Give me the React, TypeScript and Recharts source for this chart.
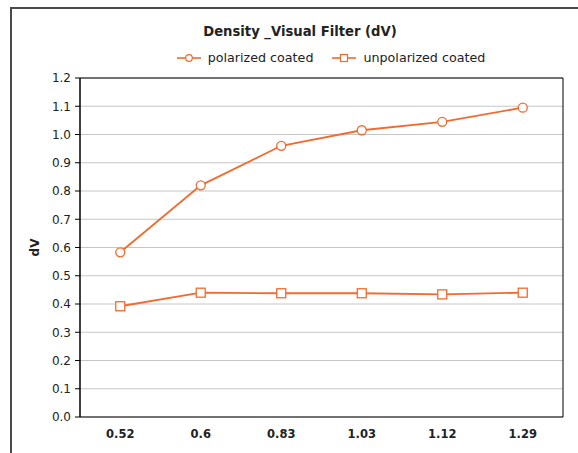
import React from 'react';
import {
  LineChart, Line, XAxis, YAxis, CartesianGrid, Legend, ReferenceArea,
} from 'recharts';

const categories = ['0.52', '0.6', '0.83', '1.03', '1.12', '1.29'];
const polarizedCoated = [0.583, 0.82, 0.96, 1.015, 1.045, 1.095];
const unpolarizedCoated = [0.392, 0.44, 0.438, 0.438, 0.434, 0.44];
const yTicks = [0, 0.1, 0.2, 0.3, 0.4, 0.5, 0.6, 0.7, 0.8, 0.9, 1.0, 1.1, 1.2];
const edgeTicks = [0, 1, 2, 3, 4, 5, 6];

const data = categories.map((c, i) => ({
  cat: c,
  idx: i + 0.5,
  polarized: polarizedCoated[i],
  unpolarized: unpolarizedCoated[i],
}));

const ORANGE = '#F26A2E';
const FONT = '"DejaVu Sans", Verdana, sans-serif';

const SquareDot = (props: any) => {
  const { cx, cy } = props;
  if (cx == null || cy == null) return null;
  return <rect x={cx - 4.5} y={cy - 4.5} width={9} height={9} fill="#fff" stroke={ORANGE} strokeWidth={1.3} />;
};

const CircleDot = (props: any) => {
  const { cx, cy } = props;
  if (cx == null || cy == null) return null;
  return <circle cx={cx} cy={cy} r={4.5} fill="#fff" stroke={ORANGE} strokeWidth={1.3} />;
};

const LegendContent = () => (
  <div style={{ fontFamily: FONT, color: '#222', position: 'relative', width: 578, height: 44 }}>
    <div style={{ fontWeight: 'bold', fontSize: 13.2, height: 22, lineHeight: '22px', textAlign: 'center', paddingLeft: 22, paddingRight: 0 }}>
      Density _Visual Filter (dV)
    </div>
    <div style={{ fontSize: 12.7, height: 20, lineHeight: '20px', marginTop: 5, display: 'flex', justifyContent: 'center', paddingLeft: 84 }}>
      <span style={{ display: 'inline-flex', alignItems: 'center', marginRight: 19 }}>
        <svg width={24} height={12} style={{ marginRight: 7 }}>
          <line x1={0} y1={6} x2={24} y2={6} stroke={ORANGE} strokeWidth={1.6} />
          <circle cx={12} cy={6} r={3.3} fill="#fff" stroke={ORANGE} strokeWidth={1.2} />
        </svg>
        polarized coated
      </span>
      <span style={{ display: 'inline-flex', alignItems: 'center' }}>
        <svg width={24} height={12} style={{ marginRight: 7 }}>
          <line x1={0} y1={6} x2={24} y2={6} stroke={ORANGE} strokeWidth={1.6} />
          <rect x={8.5} y={2.5} width={7} height={7} fill="#fff" stroke={ORANGE} strokeWidth={1.2} />
        </svg>
        unpolarized coated
      </span>
    </div>
  </div>
);

export default function App() {
  return (
    <div style={{ position: 'absolute', left: 0, top: 0, width: 578, height: 453, background: '#fff' }}>
      <div style={{ position: 'absolute', left: 10, top: 7, width: 568, height: 446, borderLeft: '2px solid #4a4a4a', borderTop: '2px solid #4a4a4a', boxSizing: 'border-box' }} />
      <div style={{ position: 'absolute', left: 0, top: 0 }}>
        <LineChart width={578} height={453} data={data} margin={{ top: 34, right: 15, bottom: 0, left: 0 }}>
          <Legend
            verticalAlign="top"
            align="left"
            content={<LegendContent />}
            wrapperStyle={{ top: 21, left: 0, height: 44, width: 578 }}
          />
          <CartesianGrid vertical={false} stroke="#c6c6c6" strokeWidth={1} />
          <XAxis
            xAxisId="edges"
            type="number"
            dataKey="idx"
            domain={[0, 6]}
            ticks={edgeTicks}
            tick={false}
            height={0}
            tickSize={5}
            stroke="#000"
            axisLine={{ stroke: '#000' }}
            tickLine={{ stroke: '#000' }}
          />
          <XAxis
            dataKey="cat"
            type="category"
            scale="band"
            tickLine={false}
            axisLine={false}
            height={36}
            tick={{ fontFamily: FONT, fontSize: 11.5, fontWeight: 'bold', fill: '#222' }}
            tickMargin={7}
          />
          <YAxis
            domain={[0, 1.2]}
            ticks={yTicks}
            interval={0}
            width={80}
            tickFormatter={(v: number) => v.toFixed(1)}
            tick={{ fontFamily: FONT, fontSize: 12, fill: '#222' }}
            tickSize={5}
            tickMargin={4}
            axisLine={{ stroke: '#000' }}
            tickLine={{ stroke: '#000' }}
            label={{
              value: 'dV', angle: -90, position: 'insideLeft', offset: 35,
              style: { fontFamily: FONT, fontSize: 12, fontWeight: 'bold', fill: '#222', textAnchor: 'middle' },
            }}
          />
          <ReferenceArea y1={0} y2={1.2} fill="none" stroke="#000" strokeWidth={1} ifOverflow="visible" />
          <Line
            dataKey="polarized"
            name="polarized coated"
            stroke={ORANGE}
            strokeWidth={1.8}
            dot={<CircleDot />}
            activeDot={false}
            isAnimationActive={false}
          />
          <Line
            dataKey="unpolarized"
            name="unpolarized coated"
            stroke={ORANGE}
            strokeWidth={1.8}
            dot={<SquareDot />}
            activeDot={false}
            isAnimationActive={false}
          />
        </LineChart>
      </div>
    </div>
  );
}
